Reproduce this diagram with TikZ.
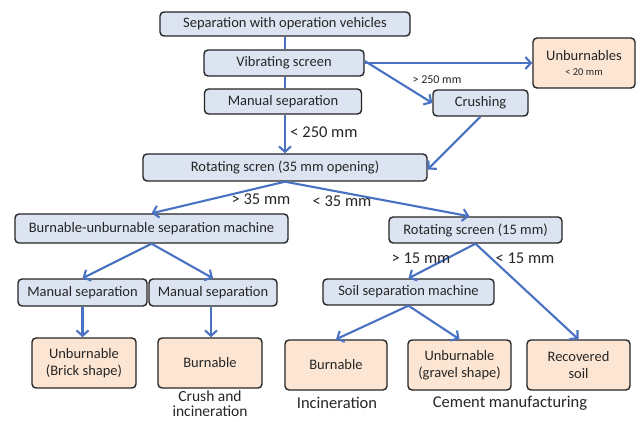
\documentclass[tikz,border=0pt]{standalone}
\usepackage{fontspec}
\setmainfont{Carlito}
\usetikzlibrary{arrows.meta}
\definecolor{lineblue}{HTML}{4A72C2}
\definecolor{boxblue}{HTML}{DCE3F1}
\definecolor{boxorange}{HTML}{FCE5D2}
\definecolor{txt}{HTML}{262626}
\tikzset{
  base/.style={draw=black!85, line width=1.4pt, rounded corners=4pt, inner sep=0pt, align=center, text=txt, font=\fontsize{14.5}{17}\selectfont},
  bluebox/.style={base, fill=boxblue},
  orangebox/.style={base, fill=boxorange, minimum width=103pt, minimum height=50pt},
  conn/.style={draw=lineblue, line width=2.1pt},
  arr/.style={conn, -{Straight Barb[length=5.5pt,width=12pt,line width=2.1pt]}},
  lbl/.style={text=txt, inner sep=0pt, font=\fontsize{16.5}{19}\selectfont},
  slbl/.style={text=txt, inner sep=0pt, font=\fontsize{12}{14}\selectfont},
  note/.style={text=txt, inner sep=0pt, font=\fontsize{16.5}{19}\selectfont},
}
\begin{document}
\begin{tikzpicture}[x=1pt,y=-1pt]
\useasboundingbox (0,0) rectangle (640,422);
\fill[white] (0,0) rectangle (640,422);
% blue boxes
\node[bluebox, minimum width=250pt, minimum height=24pt] (b1) at (285,24) {Separation with operation vehicles};
\node[bluebox, minimum width=160pt, minimum height=26pt] (b2) at (284,63) {Vibrating screen};
\node[bluebox, minimum width=157pt, minimum height=25pt] (b3) at (283,101.5) {Manual separation};
\node[bluebox, minimum width=95pt, minimum height=26pt] (crush) at (480.5,103) {Crushing};
\node[bluebox, minimum width=284pt, minimum height=27pt] (b6) at (285,167.5) {Rotating scren (35 mm opening)};
\node[bluebox, minimum width=273pt, minimum height=29pt] (b7) at (151.5,228.5) {Burnable-unburnable separation machine};
\node[bluebox, minimum width=173pt, minimum height=26pt] (b8) at (475.5,230) {Rotating screen (15 mm)};
\node[bluebox, minimum width=171pt, minimum height=26pt] (b9) at (408.5,292) {Soil separation machine};
\node[bluebox, minimum width=129pt, minimum height=27pt] (m1) at (82.5,292.5) {Manual separation};
\node[bluebox, minimum width=128pt, minimum height=27pt] (m2) at (213,292.5) {Manual separation};
% orange boxes
\node[orangebox, minimum width=102pt] (unb) at (584,63) {Unburnables\\[-2pt]{\fontsize{10.5}{12}\selectfont < 20 mm}};
\node[orangebox, minimum width=104pt] (u1) at (84,363) {Unburnable\\(Brick shape)};
\node[orangebox, minimum width=104pt] (bu1) at (210,363) {Burnable};
\node[orangebox, minimum width=102pt] (bu2) at (336,365) {Burnable};
\node[orangebox] (g) at (459.5,365) {Unburnable\\(gravel shape)};
\node[orangebox] (rs) at (578.5,365) {Recovered\\soil};
% connectors
\draw[conn, line width=1.6pt] (b1.south) -- (b1.south |- b2.north);
\draw[conn, line width=1.6pt] (b1.south |- b2.south) -- (b1.south |- b3.north);
\draw[arr] (b1.south |- b3.south) -- (b1.south |- b6.north);
\draw[arr] (b2.east) -- (unb.west);
\draw[arr] ([yshift=2pt]b2.east) -- (crush.west);
\draw[arr] (crush.south) -- ([yshift=-2pt]b6.east);
\draw[arr] (b6.south) -- (b7.north);
\draw[arr] (b6.south) -- ([xshift=-6pt]b8.north);
\draw[arr] (b7.south) -- (m1.north);
\draw[arr] (b7.south) -- (m2.north);
\draw[arr] (m1.south) -- (m1.south |- u1.north);
\draw[arr] ([xshift=-2pt]m2.south) -- ([xshift=-2pt]m2.south |- bu1.north);
\draw[arr] (b8.south) -- (b9.north);
\draw[arr] (b8.south) -- (rs.north);
\draw[arr] (b9.south) -- (bu2.north);
\draw[arr] (b9.south) -- (g.north);
% labels
\node[slbl] (l250a) at (437,80) {> 250 mm};
\node[lbl] (l250b) at (324,132) {< 250 mm};
\node[lbl] (l35a) at (261,199) {> 35 mm};
\node[lbl] (l35b) at (342,201) {< 35 mm};
\node[lbl] (l15a) at (421,258) {> 15 mm};
\node[lbl] (l15b) at (525,258) {< 15 mm};
\node[note, font=\fontsize{15.5}{18}\selectfont] (n1) at (210,396) {Crush and};
\node[note, font=\fontsize{15.5}{18}\selectfont] (n2) at (210,411) {incineration};
\node[note] (n3) at (337,403) {Incineration};
\node[note] (n4) at (510,403) {Cement manufacturing};
\end{tikzpicture}
\end{document}
